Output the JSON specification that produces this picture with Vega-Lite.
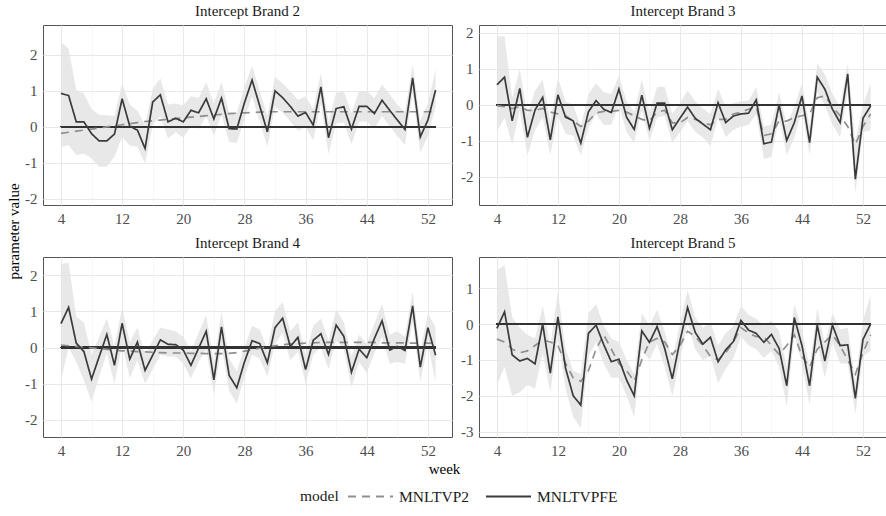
{
"$schema": "https://vega.github.io/schema/vega-lite/v6.json",
"padding": {"left": 5, "top": 3, "right": 0, "bottom": 0},
"background": "white",
"config": {
 "font": "Liberation Serif",
 "view": {"stroke": "#555555", "strokeWidth": 1},
 "axis": {"ticks": false, "domain": false, "labelFont": "Liberation Serif", "labelFontSize": 15, "labelColor": "#4d4d4d", "labelPadding": 6, "titleFont": "Liberation Serif", "titleFontSize": 15, "titleFontWeight": "normal", "titleColor": "#000000"},
 "title": {"font": "Liberation Serif", "fontSize": 15, "fontWeight": "normal", "color": "#1a1a1a", "offset": 6},
 "legend": {"labelFont": "Liberation Serif", "labelFontSize": 15.5, "labelColor": "#1a1a1a", "titleFont": "Liberation Serif", "titleFontSize": 15.5, "titleFontWeight": "normal", "titleColor": "#1a1a1a"}
},
"data": {"values": [
{"b":2,"w":4,"MNLTVPFE":0.93,"MNLTVP2":-0.18,"lo":-0.56,"hi":2.36},
{"b":2,"w":5,"MNLTVPFE":0.87,"MNLTVP2":-0.15,"lo":-0.50,"hi":2.18},
{"b":2,"w":6,"MNLTVPFE":0.14,"MNLTVP2":-0.12,"lo":-0.79,"hi":1.02},
{"b":2,"w":7,"MNLTVPFE":0.14,"MNLTVP2":-0.09,"lo":-0.74,"hi":0.93},
{"b":2,"w":8,"MNLTVPFE":-0.19,"MNLTVP2":-0.06,"lo":-0.88,"hi":0.50},
{"b":2,"w":9,"MNLTVPFE":-0.39,"MNLTVP2":-0.03,"lo":-1.11,"hi":0.34},
{"b":2,"w":10,"MNLTVPFE":-0.39,"MNLTVP2":0.00,"lo":-1.11,"hi":0.32},
{"b":2,"w":11,"MNLTVPFE":-0.20,"MNLTVP2":0.03,"lo":-0.83,"hi":0.30},
{"b":2,"w":12,"MNLTVPFE":0.78,"MNLTVP2":0.06,"lo":-0.28,"hi":1.20},
{"b":2,"w":13,"MNLTVPFE":0.02,"MNLTVP2":0.09,"lo":-0.52,"hi":0.62},
{"b":2,"w":14,"MNLTVPFE":-0.09,"MNLTVP2":0.12,"lo":-0.55,"hi":0.45},
{"b":2,"w":15,"MNLTVPFE":-0.60,"MNLTVP2":0.15,"lo":-1.02,"hi":0.05},
{"b":2,"w":16,"MNLTVPFE":0.69,"MNLTVP2":0.17,"lo":0.05,"hi":1.05},
{"b":2,"w":17,"MNLTVPFE":0.89,"MNLTVP2":0.19,"lo":0.30,"hi":1.35},
{"b":2,"w":18,"MNLTVPFE":0.14,"MNLTVP2":0.21,"lo":-0.32,"hi":0.62},
{"b":2,"w":19,"MNLTVPFE":0.24,"MNLTVP2":0.23,"lo":-0.15,"hi":0.65},
{"b":2,"w":20,"MNLTVPFE":0.14,"MNLTVP2":0.25,"lo":-0.30,"hi":0.60},
{"b":2,"w":21,"MNLTVPFE":0.46,"MNLTVP2":0.27,"lo":0.02,"hi":0.85},
{"b":2,"w":22,"MNLTVPFE":0.39,"MNLTVP2":0.29,"lo":-0.05,"hi":0.80},
{"b":2,"w":23,"MNLTVPFE":0.78,"MNLTVP2":0.31,"lo":0.30,"hi":1.25},
{"b":2,"w":24,"MNLTVPFE":0.22,"MNLTVP2":0.33,"lo":-0.25,"hi":0.65},
{"b":2,"w":25,"MNLTVPFE":0.80,"MNLTVP2":0.35,"lo":0.35,"hi":1.25},
{"b":2,"w":26,"MNLTVPFE":-0.05,"MNLTVP2":0.37,"lo":-0.42,"hi":0.40},
{"b":2,"w":27,"MNLTVPFE":-0.06,"MNLTVP2":0.38,"lo":-0.45,"hi":0.40},
{"b":2,"w":28,"MNLTVPFE":0.67,"MNLTVP2":0.39,"lo":0.22,"hi":1.10},
{"b":2,"w":29,"MNLTVPFE":1.30,"MNLTVP2":0.40,"lo":0.85,"hi":1.70},
{"b":2,"w":30,"MNLTVPFE":0.58,"MNLTVP2":0.41,"lo":0.15,"hi":1.00},
{"b":2,"w":31,"MNLTVPFE":-0.14,"MNLTVP2":0.42,"lo":-0.55,"hi":0.30},
{"b":2,"w":32,"MNLTVPFE":1.00,"MNLTVP2":0.42,"lo":0.55,"hi":1.40},
{"b":2,"w":33,"MNLTVPFE":0.81,"MNLTVP2":0.42,"lo":0.40,"hi":1.20},
{"b":2,"w":34,"MNLTVPFE":0.57,"MNLTVP2":0.42,"lo":0.15,"hi":1.00},
{"b":2,"w":35,"MNLTVPFE":0.30,"MNLTVP2":0.42,"lo":-0.10,"hi":0.75},
{"b":2,"w":36,"MNLTVPFE":0.40,"MNLTVP2":0.42,"lo":0.00,"hi":0.85},
{"b":2,"w":37,"MNLTVPFE":0.05,"MNLTVP2":0.42,"lo":-0.38,"hi":0.48},
{"b":2,"w":38,"MNLTVPFE":1.11,"MNLTVP2":0.42,"lo":0.65,"hi":1.50},
{"b":2,"w":39,"MNLTVPFE":-0.30,"MNLTVP2":0.42,"lo":-0.75,"hi":0.15},
{"b":2,"w":40,"MNLTVPFE":0.51,"MNLTVP2":0.42,"lo":0.10,"hi":0.95},
{"b":2,"w":41,"MNLTVPFE":0.56,"MNLTVP2":0.42,"lo":0.12,"hi":0.98},
{"b":2,"w":42,"MNLTVPFE":-0.06,"MNLTVP2":0.42,"lo":-0.48,"hi":0.38},
{"b":2,"w":43,"MNLTVPFE":0.57,"MNLTVP2":0.42,"lo":0.15,"hi":1.00},
{"b":2,"w":44,"MNLTVPFE":0.57,"MNLTVP2":0.42,"lo":0.15,"hi":1.00},
{"b":2,"w":45,"MNLTVPFE":0.37,"MNLTVP2":0.42,"lo":-0.05,"hi":0.80},
{"b":2,"w":46,"MNLTVPFE":0.74,"MNLTVP2":0.42,"lo":0.30,"hi":1.18},
{"b":2,"w":47,"MNLTVPFE":0.46,"MNLTVP2":0.42,"lo":0.02,"hi":0.90},
{"b":2,"w":48,"MNLTVPFE":0.19,"MNLTVP2":0.42,"lo":-0.25,"hi":0.62},
{"b":2,"w":49,"MNLTVPFE":-0.07,"MNLTVP2":0.42,"lo":-0.50,"hi":0.40},
{"b":2,"w":50,"MNLTVPFE":1.36,"MNLTVP2":0.42,"lo":0.95,"hi":1.75},
{"b":2,"w":51,"MNLTVPFE":-0.28,"MNLTVP2":0.42,"lo":-0.72,"hi":0.18},
{"b":2,"w":52,"MNLTVPFE":0.19,"MNLTVP2":0.42,"lo":-0.25,"hi":0.65},
{"b":2,"w":53,"MNLTVPFE":1.02,"MNLTVP2":0.42,"lo":0.55,"hi":1.60},
{"b":3,"w":4,"MNLTVPFE":0.56,"MNLTVP2":-0.02,"lo":-0.75,"hi":1.90},
{"b":3,"w":5,"MNLTVPFE":0.77,"MNLTVP2":-0.05,"lo":-0.35,"hi":1.90},
{"b":3,"w":6,"MNLTVPFE":-0.44,"MNLTVP2":-0.10,"lo":-1.10,"hi":0.20},
{"b":3,"w":7,"MNLTVPFE":0.46,"MNLTVP2":-0.05,"lo":-0.15,"hi":1.00},
{"b":3,"w":8,"MNLTVPFE":-0.90,"MNLTVP2":-0.15,"lo":-1.40,"hi":-0.30},
{"b":3,"w":9,"MNLTVPFE":-0.14,"MNLTVP2":-0.15,"lo":-0.70,"hi":0.40},
{"b":3,"w":10,"MNLTVPFE":0.21,"MNLTVP2":-0.10,"lo":-0.35,"hi":0.70},
{"b":3,"w":11,"MNLTVPFE":-0.97,"MNLTVP2":-0.20,"lo":-1.40,"hi":-0.45},
{"b":3,"w":12,"MNLTVPFE":0.28,"MNLTVP2":-0.25,"lo":-0.30,"hi":0.75},
{"b":3,"w":13,"MNLTVPFE":-0.34,"MNLTVP2":-0.30,"lo":-0.80,"hi":0.10},
{"b":3,"w":14,"MNLTVPFE":-0.44,"MNLTVP2":-0.45,"lo":-0.85,"hi":0.00},
{"b":3,"w":15,"MNLTVPFE":-1.06,"MNLTVP2":-0.60,"lo":-1.40,"hi":-0.60},
{"b":3,"w":16,"MNLTVPFE":-0.19,"MNLTVP2":-0.45,"lo":-0.65,"hi":0.30},
{"b":3,"w":17,"MNLTVPFE":0.12,"MNLTVP2":-0.22,"lo":-0.25,"hi":0.60},
{"b":3,"w":18,"MNLTVPFE":-0.12,"MNLTVP2":-0.18,"lo":-0.55,"hi":0.35},
{"b":3,"w":19,"MNLTVPFE":-0.21,"MNLTVP2":-0.18,"lo":-0.55,"hi":0.30},
{"b":3,"w":20,"MNLTVPFE":0.44,"MNLTVP2":-0.15,"lo":0.00,"hi":0.80},
{"b":3,"w":21,"MNLTVPFE":-0.34,"MNLTVP2":-0.20,"lo":-0.75,"hi":0.10},
{"b":3,"w":22,"MNLTVPFE":-0.68,"MNLTVP2":-0.30,"lo":-1.05,"hi":-0.20},
{"b":3,"w":23,"MNLTVPFE":0.27,"MNLTVP2":-0.40,"lo":-0.15,"hi":0.70},
{"b":3,"w":24,"MNLTVPFE":-0.65,"MNLTVP2":-0.45,"lo":-1.00,"hi":-0.20},
{"b":3,"w":25,"MNLTVPFE":0.05,"MNLTVP2":-0.20,"lo":-0.35,"hi":0.50},
{"b":3,"w":26,"MNLTVPFE":0.05,"MNLTVP2":-0.15,"lo":-0.30,"hi":0.50},
{"b":3,"w":27,"MNLTVPFE":-0.69,"MNLTVP2":-0.50,"lo":-1.05,"hi":-0.25},
{"b":3,"w":28,"MNLTVPFE":-0.37,"MNLTVP2":-0.50,"lo":-0.75,"hi":0.05},
{"b":3,"w":29,"MNLTVPFE":-0.06,"MNLTVP2":-0.35,"lo":-0.45,"hi":0.40},
{"b":3,"w":30,"MNLTVPFE":-0.37,"MNLTVP2":-0.40,"lo":-0.75,"hi":0.10},
{"b":3,"w":31,"MNLTVPFE":-0.53,"MNLTVP2":-0.50,"lo":-0.90,"hi":-0.10},
{"b":3,"w":32,"MNLTVPFE":-0.69,"MNLTVP2":-0.55,"lo":-1.15,"hi":-0.25},
{"b":3,"w":33,"MNLTVPFE":0.06,"MNLTVP2":-0.40,"lo":-0.35,"hi":0.45},
{"b":3,"w":34,"MNLTVPFE":-0.49,"MNLTVP2":-0.40,"lo":-0.90,"hi":-0.05},
{"b":3,"w":35,"MNLTVPFE":-0.31,"MNLTVP2":-0.25,"lo":-0.70,"hi":0.05},
{"b":3,"w":36,"MNLTVPFE":-0.25,"MNLTVP2":-0.20,"lo":-0.60,"hi":0.10},
{"b":3,"w":37,"MNLTVPFE":-0.23,"MNLTVP2":-0.12,"lo":-0.55,"hi":0.12},
{"b":3,"w":38,"MNLTVPFE":0.14,"MNLTVP2":-0.05,"lo":-0.25,"hi":0.50},
{"b":3,"w":39,"MNLTVPFE":-1.08,"MNLTVP2":-0.85,"lo":-1.50,"hi":-0.60},
{"b":3,"w":40,"MNLTVPFE":-1.03,"MNLTVP2":-0.80,"lo":-1.45,"hi":-0.55},
{"b":3,"w":41,"MNLTVPFE":0.00,"MNLTVP2":-0.45,"lo":-0.35,"hi":0.35},
{"b":3,"w":42,"MNLTVPFE":-0.99,"MNLTVP2":-0.45,"lo":-1.40,"hi":-0.55},
{"b":3,"w":43,"MNLTVPFE":-0.49,"MNLTVP2":-0.35,"lo":-0.90,"hi":-0.05},
{"b":3,"w":44,"MNLTVPFE":0.25,"MNLTVP2":-0.30,"lo":-0.15,"hi":0.60},
{"b":3,"w":45,"MNLTVPFE":-1.05,"MNLTVP2":-0.25,"lo":-1.40,"hi":-0.60},
{"b":3,"w":46,"MNLTVPFE":0.77,"MNLTVP2":0.20,"lo":0.35,"hi":1.15},
{"b":3,"w":47,"MNLTVPFE":0.44,"MNLTVP2":0.25,"lo":0.00,"hi":0.85},
{"b":3,"w":48,"MNLTVPFE":-0.12,"MNLTVP2":-0.05,"lo":-0.55,"hi":0.30},
{"b":3,"w":49,"MNLTVPFE":-0.49,"MNLTVP2":-0.30,"lo":-0.90,"hi":-0.05},
{"b":3,"w":50,"MNLTVPFE":0.86,"MNLTVP2":-0.60,"lo":0.40,"hi":1.15},
{"b":3,"w":51,"MNLTVPFE":-2.06,"MNLTVP2":-1.10,"lo":-2.45,"hi":-1.00},
{"b":3,"w":52,"MNLTVPFE":-0.37,"MNLTVP2":-0.60,"lo":-0.75,"hi":0.00},
{"b":3,"w":53,"MNLTVPFE":-0.03,"MNLTVP2":-0.25,"lo":-0.70,"hi":0.60},
{"b":4,"w":4,"MNLTVPFE":0.66,"MNLTVP2":0.07,"lo":-0.90,"hi":2.30},
{"b":4,"w":5,"MNLTVPFE":1.11,"MNLTVP2":0.05,"lo":0.00,"hi":2.35},
{"b":4,"w":6,"MNLTVPFE":0.12,"MNLTVP2":0.03,"lo":-0.40,"hi":0.85},
{"b":4,"w":7,"MNLTVPFE":-0.11,"MNLTVP2":0.01,"lo":-0.90,"hi":0.70},
{"b":4,"w":8,"MNLTVPFE":-0.87,"MNLTVP2":-0.01,"lo":-1.50,"hi":-0.20},
{"b":4,"w":9,"MNLTVPFE":-0.25,"MNLTVP2":-0.03,"lo":-0.80,"hi":0.30},
{"b":4,"w":10,"MNLTVPFE":0.36,"MNLTVP2":-0.05,"lo":-0.15,"hi":0.80},
{"b":4,"w":11,"MNLTVPFE":-0.49,"MNLTVP2":-0.07,"lo":-1.00,"hi":0.05},
{"b":4,"w":12,"MNLTVPFE":0.67,"MNLTVP2":-0.09,"lo":0.10,"hi":1.10},
{"b":4,"w":13,"MNLTVPFE":-0.32,"MNLTVP2":-0.10,"lo":-0.85,"hi":0.15},
{"b":4,"w":14,"MNLTVPFE":0.15,"MNLTVP2":-0.11,"lo":-0.35,"hi":0.55},
{"b":4,"w":15,"MNLTVPFE":-0.63,"MNLTVP2":-0.12,"lo":-1.00,"hi":-0.20},
{"b":4,"w":16,"MNLTVPFE":-0.21,"MNLTVP2":-0.13,"lo":-0.60,"hi":0.20},
{"b":4,"w":17,"MNLTVPFE":0.21,"MNLTVP2":-0.14,"lo":-0.20,"hi":0.55},
{"b":4,"w":18,"MNLTVPFE":0.09,"MNLTVP2":-0.15,"lo":-0.25,"hi":0.50},
{"b":4,"w":19,"MNLTVPFE":0.08,"MNLTVP2":-0.15,"lo":-0.25,"hi":0.45},
{"b":4,"w":20,"MNLTVPFE":-0.07,"MNLTVP2":-0.15,"lo":-0.45,"hi":0.30},
{"b":4,"w":21,"MNLTVPFE":-0.49,"MNLTVP2":-0.16,"lo":-0.85,"hi":-0.10},
{"b":4,"w":22,"MNLTVPFE":-0.02,"MNLTVP2":-0.16,"lo":-0.40,"hi":0.40},
{"b":4,"w":23,"MNLTVPFE":0.45,"MNLTVP2":-0.17,"lo":-0.05,"hi":0.90},
{"b":4,"w":24,"MNLTVPFE":-0.89,"MNLTVP2":-0.17,"lo":-1.30,"hi":-0.40},
{"b":4,"w":25,"MNLTVPFE":0.57,"MNLTVP2":-0.17,"lo":0.05,"hi":1.00},
{"b":4,"w":26,"MNLTVPFE":-0.77,"MNLTVP2":-0.16,"lo":-1.20,"hi":-0.30},
{"b":4,"w":27,"MNLTVPFE":-1.11,"MNLTVP2":-0.14,"lo":-1.55,"hi":-0.65},
{"b":4,"w":28,"MNLTVPFE":-0.40,"MNLTVP2":-0.10,"lo":-0.80,"hi":0.00},
{"b":4,"w":29,"MNLTVPFE":0.19,"MNLTVP2":-0.06,"lo":-0.20,"hi":0.60},
{"b":4,"w":30,"MNLTVPFE":0.11,"MNLTVP2":-0.02,"lo":-0.30,"hi":0.50},
{"b":4,"w":31,"MNLTVPFE":-0.42,"MNLTVP2":0.02,"lo":-0.80,"hi":-0.05},
{"b":4,"w":32,"MNLTVPFE":0.55,"MNLTVP2":0.05,"lo":0.10,"hi":1.00},
{"b":4,"w":33,"MNLTVPFE":0.81,"MNLTVP2":0.08,"lo":0.40,"hi":1.25},
{"b":4,"w":34,"MNLTVPFE":0.03,"MNLTVP2":0.10,"lo":-0.35,"hi":0.45},
{"b":4,"w":35,"MNLTVPFE":0.28,"MNLTVP2":0.11,"lo":-0.10,"hi":0.70},
{"b":4,"w":36,"MNLTVPFE":-0.61,"MNLTVP2":0.12,"lo":-1.00,"hi":-0.20},
{"b":4,"w":37,"MNLTVPFE":0.20,"MNLTVP2":0.13,"lo":-0.20,"hi":0.60},
{"b":4,"w":38,"MNLTVPFE":0.38,"MNLTVP2":0.14,"lo":0.00,"hi":0.80},
{"b":4,"w":39,"MNLTVPFE":-0.19,"MNLTVP2":0.14,"lo":-0.60,"hi":0.20},
{"b":4,"w":40,"MNLTVPFE":0.62,"MNLTVP2":0.14,"lo":0.20,"hi":1.05},
{"b":4,"w":41,"MNLTVPFE":0.31,"MNLTVP2":0.14,"lo":-0.05,"hi":0.70},
{"b":4,"w":42,"MNLTVPFE":-0.68,"MNLTVP2":0.14,"lo":-1.10,"hi":-0.25},
{"b":4,"w":43,"MNLTVPFE":-0.04,"MNLTVP2":0.14,"lo":-0.40,"hi":0.35},
{"b":4,"w":44,"MNLTVPFE":-0.28,"MNLTVP2":0.14,"lo":-0.70,"hi":0.10},
{"b":4,"w":45,"MNLTVPFE":0.25,"MNLTVP2":0.14,"lo":-0.15,"hi":0.65},
{"b":4,"w":46,"MNLTVPFE":0.74,"MNLTVP2":0.13,"lo":0.30,"hi":1.20},
{"b":4,"w":47,"MNLTVPFE":-0.07,"MNLTVP2":0.13,"lo":-0.45,"hi":0.35},
{"b":4,"w":48,"MNLTVPFE":0.03,"MNLTVP2":0.13,"lo":-0.40,"hi":0.45},
{"b":4,"w":49,"MNLTVPFE":-0.08,"MNLTVP2":0.13,"lo":-0.45,"hi":0.30},
{"b":4,"w":50,"MNLTVPFE":1.15,"MNLTVP2":0.12,"lo":0.70,"hi":1.55},
{"b":4,"w":51,"MNLTVPFE":-0.54,"MNLTVP2":0.12,"lo":-0.95,"hi":-0.10},
{"b":4,"w":52,"MNLTVPFE":0.55,"MNLTVP2":0.12,"lo":0.10,"hi":0.95},
{"b":4,"w":53,"MNLTVPFE":-0.21,"MNLTVP2":0.12,"lo":-0.95,"hi":0.55},
{"b":5,"w":4,"MNLTVPFE":-0.12,"MNLTVP2":-0.42,"lo":-1.70,"hi":1.50},
{"b":5,"w":5,"MNLTVPFE":0.34,"MNLTVP2":-0.50,"lo":-1.20,"hi":1.65},
{"b":5,"w":6,"MNLTVPFE":-0.86,"MNLTVP2":-0.70,"lo":-2.00,"hi":0.20},
{"b":5,"w":7,"MNLTVPFE":-1.03,"MNLTVP2":-0.80,"lo":-1.90,"hi":-0.10},
{"b":5,"w":8,"MNLTVPFE":-0.96,"MNLTVP2":-0.75,"lo":-1.70,"hi":-0.30},
{"b":5,"w":9,"MNLTVPFE":-1.11,"MNLTVP2":-0.60,"lo":-1.80,"hi":-0.40},
{"b":5,"w":10,"MNLTVPFE":0.00,"MNLTVP2":-0.45,"lo":-0.80,"hi":0.50},
{"b":5,"w":11,"MNLTVPFE":-1.37,"MNLTVP2":-0.50,"lo":-1.90,"hi":-0.60},
{"b":5,"w":12,"MNLTVPFE":0.20,"MNLTVP2":-0.60,"lo":-0.40,"hi":0.90},
{"b":5,"w":13,"MNLTVPFE":-1.23,"MNLTVP2":-1.10,"lo":-1.80,"hi":-0.70},
{"b":5,"w":14,"MNLTVPFE":-2.00,"MNLTVP2":-1.50,"lo":-2.60,"hi":-1.30},
{"b":5,"w":15,"MNLTVPFE":-2.26,"MNLTVP2":-1.60,"lo":-2.90,"hi":-1.40},
{"b":5,"w":16,"MNLTVPFE":-0.26,"MNLTVP2":-1.30,"lo":-0.90,"hi":0.30},
{"b":5,"w":17,"MNLTVPFE":-0.03,"MNLTVP2":-0.70,"lo":-0.50,"hi":0.55},
{"b":5,"w":18,"MNLTVPFE":-0.57,"MNLTVP2":-0.30,"lo":-1.10,"hi":-0.05},
{"b":5,"w":19,"MNLTVPFE":-1.05,"MNLTVP2":-0.70,"lo":-1.50,"hi":-0.40},
{"b":5,"w":20,"MNLTVPFE":-0.98,"MNLTVP2":-1.10,"lo":-1.50,"hi":-0.50},
{"b":5,"w":21,"MNLTVPFE":-1.56,"MNLTVP2":-1.30,"lo":-2.00,"hi":-1.00},
{"b":5,"w":22,"MNLTVPFE":-2.00,"MNLTVP2":-1.60,"lo":-2.60,"hi":-1.40},
{"b":5,"w":23,"MNLTVPFE":-0.19,"MNLTVP2":-1.00,"lo":-0.70,"hi":0.30},
{"b":5,"w":24,"MNLTVPFE":-0.51,"MNLTVP2":-0.50,"lo":-1.00,"hi":-0.05},
{"b":5,"w":25,"MNLTVPFE":-0.07,"MNLTVP2":-0.40,"lo":-0.55,"hi":0.40},
{"b":5,"w":26,"MNLTVPFE":-0.68,"MNLTVP2":-0.50,"lo":-1.20,"hi":-0.20},
{"b":5,"w":27,"MNLTVPFE":-1.53,"MNLTVP2":-0.85,"lo":-2.00,"hi":-1.00},
{"b":5,"w":28,"MNLTVPFE":-0.47,"MNLTVP2":-0.60,"lo":-1.00,"hi":0.00},
{"b":5,"w":29,"MNLTVPFE":0.46,"MNLTVP2":-0.20,"lo":0.00,"hi":0.95},
{"b":5,"w":30,"MNLTVPFE":-0.23,"MNLTVP2":-0.35,"lo":-0.70,"hi":0.20},
{"b":5,"w":31,"MNLTVPFE":-0.56,"MNLTVP2":-0.60,"lo":-1.00,"hi":-0.10},
{"b":5,"w":32,"MNLTVPFE":-0.37,"MNLTVP2":-0.90,"lo":-0.90,"hi":0.05},
{"b":5,"w":33,"MNLTVPFE":-1.05,"MNLTVP2":-1.00,"lo":-1.65,"hi":-0.60},
{"b":5,"w":34,"MNLTVPFE":-0.72,"MNLTVP2":-0.80,"lo":-1.25,"hi":-0.25},
{"b":5,"w":35,"MNLTVPFE":-0.49,"MNLTVP2":-0.50,"lo":-0.95,"hi":-0.05},
{"b":5,"w":36,"MNLTVPFE":0.10,"MNLTVP2":-0.10,"lo":-0.35,"hi":0.50},
{"b":5,"w":37,"MNLTVPFE":-0.17,"MNLTVP2":-0.25,"lo":-0.60,"hi":0.25},
{"b":5,"w":38,"MNLTVPFE":-0.26,"MNLTVP2":-0.35,"lo":-0.70,"hi":0.15},
{"b":5,"w":39,"MNLTVPFE":-0.51,"MNLTVP2":-0.35,"lo":-0.95,"hi":-0.05},
{"b":5,"w":40,"MNLTVPFE":-0.29,"MNLTVP2":-0.60,"lo":-0.75,"hi":0.10},
{"b":5,"w":41,"MNLTVPFE":-0.68,"MNLTVP2":-0.85,"lo":-1.20,"hi":-0.20},
{"b":5,"w":42,"MNLTVPFE":-1.72,"MNLTVP2":-0.60,"lo":-2.30,"hi":-1.20},
{"b":5,"w":43,"MNLTVPFE":0.18,"MNLTVP2":-0.30,"lo":-0.30,"hi":0.55},
{"b":5,"w":44,"MNLTVPFE":-0.60,"MNLTVP2":-0.90,"lo":-1.10,"hi":-0.15},
{"b":5,"w":45,"MNLTVPFE":-1.72,"MNLTVP2":-1.20,"lo":-2.25,"hi":-1.20},
{"b":5,"w":46,"MNLTVPFE":-0.03,"MNLTVP2":-0.70,"lo":-0.55,"hi":0.45},
{"b":5,"w":47,"MNLTVPFE":-1.03,"MNLTVP2":-0.50,"lo":-1.50,"hi":-0.55},
{"b":5,"w":48,"MNLTVPFE":-0.03,"MNLTVP2":-0.30,"lo":-0.50,"hi":0.30},
{"b":5,"w":49,"MNLTVPFE":-0.60,"MNLTVP2":-0.60,"lo":-1.10,"hi":-0.15},
{"b":5,"w":50,"MNLTVPFE":-0.58,"MNLTVP2":-1.00,"lo":-1.10,"hi":-0.10},
{"b":5,"w":51,"MNLTVPFE":-2.07,"MNLTVP2":-1.40,"lo":-2.50,"hi":-1.60},
{"b":5,"w":52,"MNLTVPFE":-0.43,"MNLTVP2":-0.80,"lo":-0.90,"hi":0.10},
{"b":5,"w":53,"MNLTVPFE":0.00,"MNLTVP2":-0.30,"lo":-0.75,"hi":0.80}
]},
"columns": 2,
"spacing": {"row": 52, "column": 27},
"bounds": "flush",
"resolve": {"scale": {"x": "independent", "y": "independent", "color": "shared", "strokeDash": "shared"}},
"concat": [
{
 "width": 409, "height": 180,
 "title": "Intercept Brand 2",
 "transform": [{"filter": "datum.b == 2"}],
 "encoding": {"x": {"field": "w", "type": "quantitative", "scale": {"domain": [1.65, 55.15], "nice": false, "zero": false},
   "axis": {"title": null, "values": [4,8,12,16,20,24,28,32,36,40,44,48,52], "labelExpr": "(datum.value - 4) % 8 == 0 ? datum.label : ''",
     "gridColor": {"condition": {"test": "(datum.value - 4) % 8 == 0", "value": "#e8e8e8"}, "value": "#f2f2f2"},
     "gridWidth": {"condition": {"test": "(datum.value - 4) % 8 == 0", "value": 1}, "value": 0.6}}}},
 "layer": [
  {"mark": {"type": "area", "color": "#e4e4e4", "opacity": 0.85},
   "encoding": {"y": {"field": "lo", "type": "quantitative", "scale": {"domain": [-2.17, 2.83], "nice": false, "zero": false},
     "axis": {"values": [-2,-1.5,-1,-0.5,0,0.5,1,1.5,2,2.5], "labelExpr": "datum.value % 1 == 0 ? '' + datum.value : ''",
       "gridColor": {"condition": {"test": "datum.value % 1 == 0", "value": "#e8e8e8"}, "value": "#f2f2f2"},
       "gridWidth": {"condition": {"test": "datum.value % 1 == 0", "value": 1}, "value": 0.6},
       "title": "parameter value", "titleX": -30, "titleY": 206, "titleAngle": -90, "titleAlign": "center", "titleBaseline": "middle"}},
     "y2": {"field": "hi"}}},
  {"mark": {"type": "rule", "color": "#333333", "strokeWidth": 1.6},
   "encoding": {"x": {"datum": 4, "type": "quantitative"}, "x2": {"datum": 53}, "y": {"datum": 0, "type": "quantitative", "scale": {"domain": [-2.17, 2.83], "nice": false, "zero": false}}}},
  {"transform": [{"fold": ["MNLTVP2", "MNLTVPFE"], "as": ["model", "value"]}],
   "mark": {"type": "line", "strokeWidth": 1.7},
   "encoding": {"y": {"field": "value", "type": "quantitative", "scale": {"domain": [-2.17, 2.83], "nice": false, "zero": false}},
     "color": {"field": "model", "type": "nominal", "scale": {"domain": ["MNLTVP2", "MNLTVPFE"], "range": ["#8f8f8f", "#3a3a3a"]},
       "legend": {"title": "model", "orient": "none", "legendX": 257, "legendY": 448, "direction": "horizontal", "titleOrient": "left", "titleBaseline": "top", "titlePadding": 8, "symbolType": "stroke", "symbolSize": 2025, "symbolStrokeWidth": 2, "columnPadding": 12, "labelOffset": 5}},
     "strokeDash": {"field": "model", "type": "nominal", "scale": {"domain": ["MNLTVP2", "MNLTVPFE"], "range": [[8, 6], [1, 0]]},
       "legend": {"title": "model", "orient": "none", "legendX": 257, "legendY": 448, "direction": "horizontal", "titleOrient": "left", "titleBaseline": "top", "titlePadding": 8, "symbolType": "stroke", "symbolSize": 2025, "symbolStrokeWidth": 2, "columnPadding": 12, "labelOffset": 5}}}}
 ]
},
{
 "width": 408, "height": 180,
 "title": "Intercept Brand 3",
 "transform": [{"filter": "datum.b == 3"}],
 "encoding": {"x": {"field": "w", "type": "quantitative", "scale": {"domain": [1.65, 55.15], "nice": false, "zero": false},
   "axis": {"title": null, "values": [4,8,12,16,20,24,28,32,36,40,44,48,52], "labelExpr": "(datum.value - 4) % 8 == 0 ? datum.label : ''",
     "gridColor": {"condition": {"test": "(datum.value - 4) % 8 == 0", "value": "#e8e8e8"}, "value": "#f2f2f2"},
     "gridWidth": {"condition": {"test": "(datum.value - 4) % 8 == 0", "value": 1}, "value": 0.6}}}},
 "layer": [
  {"mark": {"type": "area", "color": "#e4e4e4", "opacity": 0.85},
   "encoding": {"y": {"field": "lo", "type": "quantitative", "scale": {"domain": [-2.78, 2.22], "nice": false, "zero": false},
     "axis": {"title": null, "values": [-2,-1.5,-1,-0.5,0,0.5,1,1.5,2], "labelExpr": "datum.value % 1 == 0 ? '' + datum.value : ''",
       "gridColor": {"condition": {"test": "datum.value % 1 == 0", "value": "#e8e8e8"}, "value": "#f2f2f2"},
       "gridWidth": {"condition": {"test": "datum.value % 1 == 0", "value": 1}, "value": 0.6}}},
     "y2": {"field": "hi"}}},
  {"mark": {"type": "rule", "color": "#333333", "strokeWidth": 1.6},
   "encoding": {"x": {"datum": 4, "type": "quantitative"}, "x2": {"datum": 53}, "y": {"datum": 0, "type": "quantitative", "scale": {"domain": [-2.78, 2.22], "nice": false, "zero": false}}}},
  {"transform": [{"fold": ["MNLTVP2", "MNLTVPFE"], "as": ["model", "value"]}],
   "mark": {"type": "line", "strokeWidth": 1.7},
   "encoding": {"y": {"field": "value", "type": "quantitative", "scale": {"domain": [-2.78, 2.22], "nice": false, "zero": false}},
     "color": {"field": "model", "type": "nominal"},
     "strokeDash": {"field": "model", "type": "nominal"}}}
 ]
},
{
 "width": 409, "height": 180,
 "title": "Intercept Brand 4",
 "transform": [{"filter": "datum.b == 4"}],
 "encoding": {"x": {"field": "w", "type": "quantitative", "scale": {"domain": [1.65, 55.15], "nice": false, "zero": false},
   "axis": {"title": "week", "titleX": 401, "titleY": 31, "titleAlign": "center", "titleBaseline": "middle", "values": [4,8,12,16,20,24,28,32,36,40,44,48,52], "labelExpr": "(datum.value - 4) % 8 == 0 ? datum.label : ''",
     "gridColor": {"condition": {"test": "(datum.value - 4) % 8 == 0", "value": "#e8e8e8"}, "value": "#f2f2f2"},
     "gridWidth": {"condition": {"test": "(datum.value - 4) % 8 == 0", "value": 1}, "value": 0.6}}}},
 "layer": [
  {"mark": {"type": "area", "color": "#e4e4e4", "opacity": 0.85},
   "encoding": {"y": {"field": "lo", "type": "quantitative", "scale": {"domain": [-2.47, 2.5], "nice": false, "zero": false},
     "axis": {"title": null, "values": [-2,-1.5,-1,-0.5,0,0.5,1,1.5,2,2.5], "labelExpr": "datum.value % 1 == 0 ? '' + datum.value : ''",
       "gridColor": {"condition": {"test": "datum.value % 1 == 0", "value": "#e8e8e8"}, "value": "#f2f2f2"},
       "gridWidth": {"condition": {"test": "datum.value % 1 == 0", "value": 1}, "value": 0.6}}},
     "y2": {"field": "hi"}}},
  {"mark": {"type": "rule", "color": "#333333", "strokeWidth": 1.6},
   "encoding": {"x": {"datum": 4, "type": "quantitative"}, "x2": {"datum": 53}, "y": {"datum": 0, "type": "quantitative", "scale": {"domain": [-2.47, 2.5], "nice": false, "zero": false}}}},
  {"transform": [{"fold": ["MNLTVP2", "MNLTVPFE"], "as": ["model", "value"]}],
   "mark": {"type": "line", "strokeWidth": 1.7},
   "encoding": {"y": {"field": "value", "type": "quantitative", "scale": {"domain": [-2.47, 2.5], "nice": false, "zero": false}},
     "color": {"field": "model", "type": "nominal"},
     "strokeDash": {"field": "model", "type": "nominal"}}}
 ]
},
{
 "width": 408, "height": 180,
 "title": "Intercept Brand 5",
 "transform": [{"filter": "datum.b == 5"}],
 "encoding": {"x": {"field": "w", "type": "quantitative", "scale": {"domain": [1.65, 55.15], "nice": false, "zero": false},
   "axis": {"title": null, "values": [4,8,12,16,20,24,28,32,36,40,44,48,52], "labelExpr": "(datum.value - 4) % 8 == 0 ? datum.label : ''",
     "gridColor": {"condition": {"test": "(datum.value - 4) % 8 == 0", "value": "#e8e8e8"}, "value": "#f2f2f2"},
     "gridWidth": {"condition": {"test": "(datum.value - 4) % 8 == 0", "value": 1}, "value": 0.6}}}},
 "layer": [
  {"mark": {"type": "area", "color": "#e4e4e4", "opacity": 0.85},
   "encoding": {"y": {"field": "lo", "type": "quantitative", "scale": {"domain": [-3.15, 1.87], "nice": false, "zero": false},
     "axis": {"title": null, "values": [-3,-2.5,-2,-1.5,-1,-0.5,0,0.5,1,1.5], "labelExpr": "datum.value % 1 == 0 ? '' + datum.value : ''",
       "gridColor": {"condition": {"test": "datum.value % 1 == 0", "value": "#e8e8e8"}, "value": "#f2f2f2"},
       "gridWidth": {"condition": {"test": "datum.value % 1 == 0", "value": 1}, "value": 0.6}}},
     "y2": {"field": "hi"}}},
  {"mark": {"type": "rule", "color": "#333333", "strokeWidth": 1.6},
   "encoding": {"x": {"datum": 4, "type": "quantitative"}, "x2": {"datum": 53}, "y": {"datum": 0, "type": "quantitative", "scale": {"domain": [-3.15, 1.87], "nice": false, "zero": false}}}},
  {"transform": [{"fold": ["MNLTVP2", "MNLTVPFE"], "as": ["model", "value"]}],
   "mark": {"type": "line", "strokeWidth": 1.7},
   "encoding": {"y": {"field": "value", "type": "quantitative", "scale": {"domain": [-3.15, 1.87], "nice": false, "zero": false}},
     "color": {"field": "model", "type": "nominal"},
     "strokeDash": {"field": "model", "type": "nominal"}}}
 ]
}
]
}
